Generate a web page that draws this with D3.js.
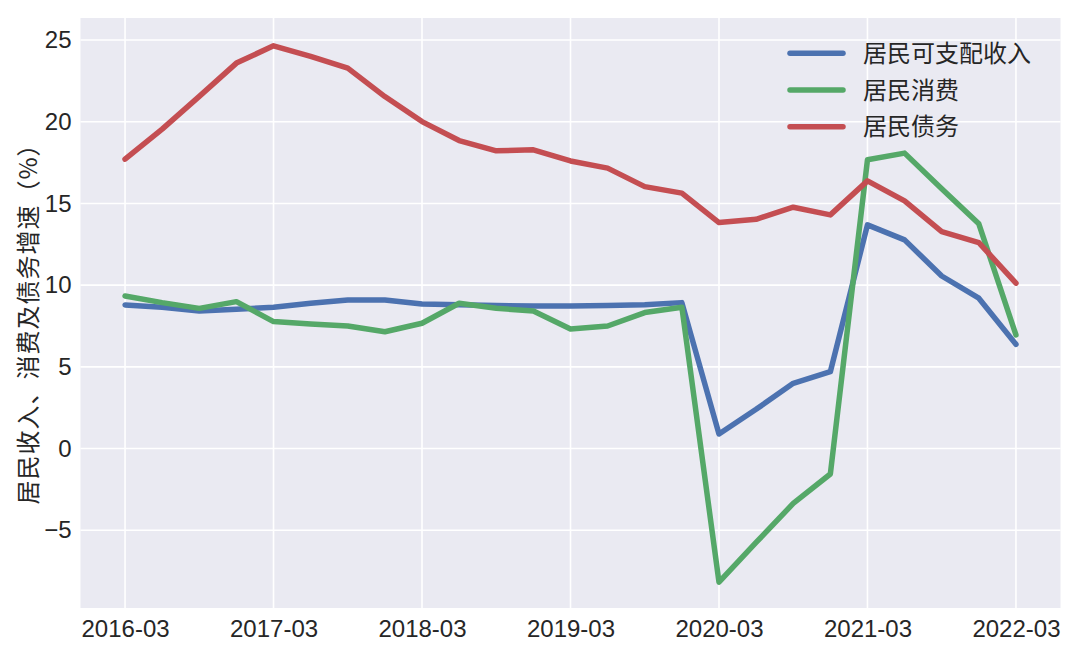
<!DOCTYPE html>
<html>
<head>
<meta charset="utf-8">
<script src="https://cdn.jsdelivr.net/npm/d3@7"></script>
<style>
  html, body { margin: 0; padding: 0; background: #ffffff; }
  svg { display: block; }
</style>
</head>
<body>
<svg id="chart" width="1080" height="672"></svg>
<script>
// ---- data ----
const quarters = [
  "2016-03","2016-06","2016-09","2016-12",
  "2017-03","2017-06","2017-09","2017-12",
  "2018-03","2018-06","2018-09","2018-12",
  "2019-03","2019-06","2019-09","2019-12",
  "2020-03","2020-06","2020-09","2020-12",
  "2021-03","2021-06","2021-09","2021-12",
  "2022-03"
];
const income = [8.79, 8.65, 8.42, 8.52, 8.65, 8.89, 9.09, 9.09, 8.85, 8.8, 8.75, 8.73, 8.72,
                8.76, 8.8, 8.93, 0.89, 2.4, 3.99, 4.7, 13.69, 12.77, 10.56, 9.2, 6.38];
const consumption = [9.34, 8.93, 8.58, 8.99, 7.77, 7.62, 7.5, 7.15, 7.67, 8.89, 8.58, 8.42, 7.31,
                     7.5, 8.32, 8.65, -8.18, -5.75, -3.36, -1.56, 17.67, 18.08, 15.9, 13.75, 6.95];
const debt = [17.71, 19.55, 21.55, 23.59, 24.65, 24.0, 23.28, 21.54, 20.01, 18.85, 18.22, 18.28, 17.6,
              17.16, 16.03, 15.63, 13.83, 14.03, 14.77, 14.3, 16.38, 15.16, 13.28, 12.6, 10.12];
const seriesNames = ["居民可支配收入", "居民消费", "居民债务"];
const seriesColors = ["#4C72B0", "#55A868", "#C44E52"];
const xTickLabels = ["2016-03","2017-03","2018-03","2019-03","2020-03","2021-03","2022-03"];
const yTicks = [-5, 0, 5, 10, 15, 20, 25];
const yLabel = "居民收入、消费及债务增速（%）";

// ---- layout ----
const plot = { left: 80.5, right: 1060.5, top: 18, bottom: 608 };
const svg = d3.select("#chart");

const x = d3.scaleLinear().domain([-1.2, quarters.length - 1 + 1.2]).range([plot.left, plot.right]);
const y = d3.scaleLinear().domain([-9.76, 26.35]).range([plot.bottom, plot.top]);

const numFont = "'Liberation Sans', Arial, 'Noto Sans CJK SC', sans-serif";
const cjkFont = "'Noto Sans CJK SC', 'Liberation Sans', sans-serif";
const textColor = "#262626";

// background
svg.append("rect")
  .attr("x", plot.left).attr("y", plot.top)
  .attr("width", plot.right - plot.left).attr("height", plot.bottom - plot.top)
  .attr("fill", "#EAEAF2");

// grid
const xTickIdx = xTickLabels.map(l => quarters.indexOf(l));
const g = svg.append("g");
g.selectAll("line.vgrid").data(xTickIdx).join("line")
  .attr("x1", d => x(d)).attr("x2", d => x(d))
  .attr("y1", plot.top).attr("y2", plot.bottom)
  .attr("stroke", "#ffffff").attr("stroke-width", 1.6);
g.selectAll("line.hgrid").data(yTicks).join("line")
  .attr("x1", plot.left).attr("x2", plot.right)
  .attr("y1", d => y(d)).attr("y2", d => y(d))
  .attr("stroke", "#ffffff").attr("stroke-width", 1.6);

// axes labels via d3 axes (no domain/ticks lines)
const xAxis = d3.axisBottom(x).tickValues(xTickIdx)
  .tickFormat(d => quarters[d]).tickSize(0).tickPadding(12);
const xg = svg.append("g").attr("transform", `translate(0,${plot.bottom})`).call(xAxis);
xg.select(".domain").remove();
xg.selectAll("text").attr("font-family", numFont).attr("font-size", 24).attr("fill", textColor);

const yAxis = d3.axisLeft(y).tickValues(yTicks)
  .tickFormat(d => (d < 0 ? "\u2212" + Math.abs(d) : String(d))).tickSize(0).tickPadding(9);
const yg = svg.append("g").attr("transform", `translate(${plot.left},0)`).call(yAxis);
yg.select(".domain").remove();
yg.selectAll("text").attr("font-family", numFont).attr("font-size", 24).attr("fill", textColor);

// y label
svg.append("text")
  .attr("transform", `translate(37,318) rotate(-90)`)
  .attr("text-anchor", "middle")
  .attr("font-family", cjkFont).attr("font-size", 24)
  .attr("letter-spacing", 1)
  .attr("fill", textColor)
  .text(yLabel);

// lines
const allSeries = [income, consumption, debt];
const line = d3.line().x((d, i) => x(i)).y(d => y(d));
svg.append("g").selectAll("path").data(allSeries).join("path")
  .attr("d", d => line(d))
  .attr("fill", "none")
  .attr("stroke", (d, i) => seriesColors[i])
  .attr("stroke-width", 5.5)
  .attr("stroke-linejoin", "round")
  .attr("stroke-linecap", "round");

// legend
const legend = svg.append("g");
const legRows = legend.selectAll("g").data(seriesNames).join("g")
  .attr("transform", (d, i) => `translate(0,${53.3 + i * 36.7})`);
legRows.append("line")
  .attr("x1", 790).attr("x2", 843).attr("y1", 0).attr("y2", 0)
  .attr("stroke", (d, i) => seriesColors[i]).attr("stroke-width", 5.5)
  .attr("stroke-linecap", "round");
legRows.append("text")
  .attr("x", 863).attr("y", 0).attr("dy", "0.36em")
  .attr("font-family", cjkFont).attr("font-size", 24)
  .attr("fill", textColor)
  .text(d => d);
</script>
</body>
</html>
